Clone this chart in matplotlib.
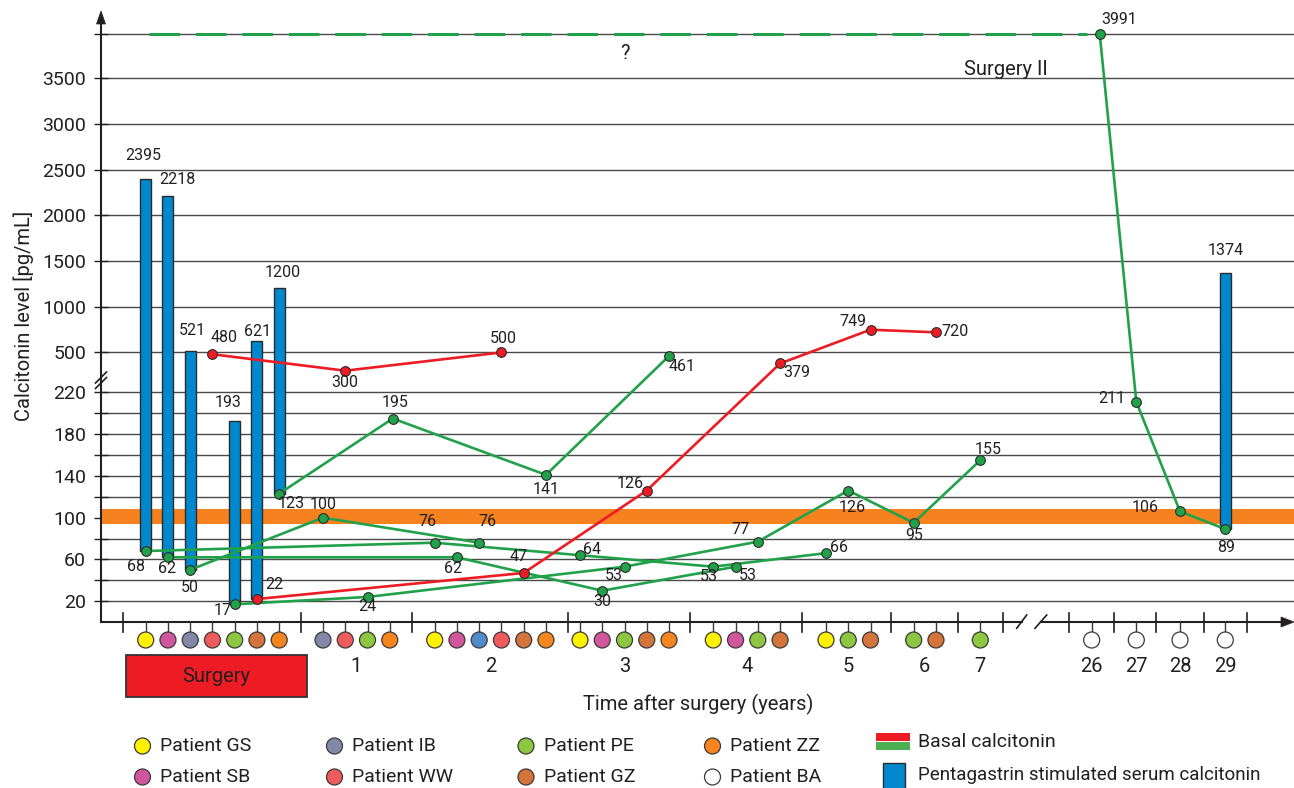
import numpy as np
import matplotlib
matplotlib.use("Agg")
import matplotlib.pyplot as plt
from matplotlib.patches import Rectangle, Circle, Polygon

plt.rcParams['font.family'] = ['Roboto', 'DejaVu Sans']
TXT = '#231f20'

# ---------------- data ----------------
patients = ['GS', 'SB', 'IB', 'WW', 'PE', 'GZ', 'ZZ', 'BA']
visit_groups = ['Surgery', '1', '2', '3', '4', '5', '6', '7', '26', '27', '28', '29']

gs_visits = ['Surgery', '2', '3', '4', '5']
gs_basal = [68, 76, 64, 53, 66]
sb_visits = ['Surgery', '2', '3', '4']
sb_basal = [62, 62, 30, 53]
ib_visits = ['Surgery', '1', '2']
ib_basal = [50, 100, 76]
ww_visits = ['Surgery', '1', '2']
ww_basal = [480, 300, 500]
pe_visits = ['Surgery', '1', '3', '4', '5', '6', '7']
pe_basal = [17, 24, 53, 77, 126, 95, 155]
gz_visits = ['Surgery', '2', '3', '4', '5', '6']
gz_basal = [22, 47, 126, 379, 749, 720]
zz_visits = ['Surgery', '1', '2', '3']
zz_basal = [123, 195, 141, 461]
ba_visits = ['26', '27', '28', '29']
ba_basal = [3991, 211, 106, 89]

# pentagastrin stimulated calcitonin (bar from basal up to stimulated value)
stim_patients = ['GS', 'SB', 'IB', 'PE', 'GZ', 'ZZ', 'BA']
stim_visits = ['Surgery', 'Surgery', 'Surgery', 'Surgery', 'Surgery', 'Surgery', '29']
stim_values = [2395, 2218, 521, 193, 621, 1200, 1374]

# patients whose basal course is drawn in red
red_patients = ['WW', 'GZ']

# normal range band
band_low, band_high = 94, 108

basal = {
    'GS': (gs_visits, gs_basal), 'SB': (sb_visits, sb_basal),
    'IB': (ib_visits, ib_basal), 'WW': (ww_visits, ww_basal),
    'PE': (pe_visits, pe_basal), 'GZ': (gz_visits, gz_basal),
    'ZZ': (zz_visits, zz_basal), 'BA': (ba_visits, ba_basal),
}

# ---------------- styles / layout ----------------
pcolors = {'GS': '#fff200', 'SB': '#d1569b', 'IB': '#8289a8', 'WW': '#ef5a5c',
           'PE': '#8dc63f', 'GZ': '#d4733a', 'ZZ': '#f6851f', 'BA': '#ffffff'}
dot_override = {('IB', '2'): '#4f8ccb'}
GREEN = '#21a24a'
RED = '#ed1c24'
BLUE = '#0088cf'
ORANGE = '#f5821f'

FS_TICK = 14
FS_DATA = 11.5
FS_TEXT = 14.5

group_start = {'Surgery': 145.7, '1': 323.0, '2': 434.7, '3': 580.0, '4': 713.3,
               '5': 826.0, '6': 913.7, '7': 980.3, '26': 1091.7, '27': 1136.3,
               '28': 1180.0, '29': 1225.3}
DOT_STEP = 22.25
group_ticks = [122.7, 301, 411.7, 568.3, 690.3, 802, 891, 957.7, 1002.7,
               1069.3, 1114, 1156, 1203.7, 1247]
# small horizontal nudges of individual measurement points
point_nudge = {('BA', '26'): 8, ('ZZ', '1'): 3}

label_off = {
    ('GS', 'Surgery'): (-10, -15), ('GS', '2'): (-7, 21), ('GS', '3'): (12, 6),
    ('GS', '4'): (-4, -10), ('GS', '5'): (13, 6),
    ('SB', 'Surgery'): (-1, -11), ('SB', '2'): (-4, -11), ('SB', '3'): (0, -11),
    ('SB', '4'): (12, -9),
    ('IB', 'Surgery'): (0, -18), ('IB', '1'): (0, 13), ('IB', '2'): (8, 21),
    ('WW', 'Surgery'): (12, 17), ('WW', '1'): (0, -12), ('WW', '2'): (2, 14),
    ('PE', 'Surgery'): (-12, -6), ('PE', '1'): (0, -10), ('PE', '3'): (-11, -9),
    ('PE', '4'): (-17, 12), ('PE', '5'): (4, -17), ('PE', '6'): (0, -13),
    ('PE', '7'): (8, 11),
    ('GZ', 'Surgery'): (17, 15), ('GZ', '2'): (-5, 16), ('GZ', '3'): (-17, 7),
    ('GZ', '4'): (17, -9), ('GZ', '5'): (-18, 8), ('GZ', '6'): (19, 1),
    ('ZZ', 'Surgery'): (12, -10), ('ZZ', '1'): (2, 16), ('ZZ', '2'): (0, -15),
    ('ZZ', '3'): (13, -11),
    ('BA', '26'): (19, 14), ('BA', '27'): (-24, 3), ('BA', '28'): (-35, 4),
    ('BA', '29'): (1, -18),
}
bar_label_off = {'GS': (-2, 24), 'SB': (9, 16), 'IB': (2, 20), 'PE': (-7, 18),
                 'GZ': (1, 10), 'ZZ': (4, 16), 'BA': (0, 22)}

# patients shown in each visit group, in legend order
group_members = {g: [p for p in patients if g in basal[p][0]] for g in visit_groups}


def xpos(patient, group):
    return group_start[group] + DOT_STEP * group_members[group].index(patient)


# ---------------- broken y scale ----------------
LOW_TOP = 220
UPPER_REF = 500
GAP = 38.33
RATIO = 0.08753
JUMP = LOW_TOP + GAP + (LOW_TOP - UPPER_REF) * RATIO


def fwd(v):
    v = np.asarray(v, dtype=float)
    return np.where(v <= LOW_TOP, v, LOW_TOP + GAP + (v - UPPER_REF) * RATIO)


def inv(t):
    t = np.asarray(t, dtype=float)
    return np.where(t <= LOW_TOP, t,
                    np.where(t < JUMP, LOW_TOP, UPPER_REF + (t - LOW_TOP - GAP) / RATIO))


W, H = 1294, 788
fig = plt.figure(figsize=(W / 100, H / 100), dpi=100)
fig.patch.set_facecolor('white')

AX_L, AX_B, AX_T = 101, 622, 12
ax = fig.add_axes([AX_L / W, (H - AX_B) / H, (W - AX_L) / W, (AX_B - AX_T) / H])
ax.set_yscale('function', functions=(fwd, inv))
ax.set_xlim(AX_L, W)
ax.set_ylim(0, float(inv((AX_B - AX_T) / 1.0435)))
for s in ax.spines.values():
    s.set_visible(False)
ax.set_xticks([])
ax.patch.set_alpha(0)

low_grid = list(range(20, 221, 20))
high_grid = [500, 1000, 1500, 2000, 2500, 3000, 3500]
top_grid = [ba_basal[0]]
grid_vals = low_grid + high_grid + top_grid
tick_labels = [str(v) if v in (20, 60, 100, 140, 180, 220) else '' for v in low_grid] + \
              [str(v) for v in high_grid] + ['']
for v in grid_vals:
    ax.axhline(v, color='#4a4a4a', lw=1.0, zorder=1)
ax.set_yticks(grid_vals)
ax.set_yticklabels(tick_labels)
ax.tick_params(axis='y', direction='inout', length=9.4, width=1.0, pad=6,
               labelsize=FS_TICK, colors=TXT)
ax.yaxis.set_minor_locator(matplotlib.ticker.NullLocator())

ax.axhspan(band_low, band_high, color=ORANGE, lw=0, zorder=2)

# stimulated bars
for p, g, hi in zip(stim_patients, stim_visits, stim_values):
    vis, vals = basal[p]
    lo = vals[vis.index(g)]
    x = xpos(p, g) + point_nudge.get((p, g), 0)
    ax.bar(x, hi - lo, bottom=lo, width=11, color=BLUE, edgecolor='#2b2b2b',
           lw=1.0, zorder=3)
    dx, dy = bar_label_off[p]
    ax.annotate(str(hi), (x, hi), xytext=(dx, dy), textcoords='offset pixels',
                ha='center', va='center', fontsize=FS_DATA, color=TXT, zorder=7,
                annotation_clip=False)

# unknown history of patient BA
ax.plot([group_start['Surgery'] + 3, group_start['26'] - 5], [ba_basal[0]] * 2,
        color=GREEN, lw=2.2, linestyle=(0, (10, 5.2)), zorder=4,
        dash_capstyle='butt')

# basal calcitonin courses
for p in patients:
    vis, vals = basal[p]
    xs = [xpos(p, g) + point_nudge.get((p, g), 0) for g in vis]
    col = RED if p in red_patients else GREEN
    ax.plot(xs, vals, color=col, lw=1.9, zorder=4, solid_joinstyle='round')
    ax.plot(xs, vals, 'o', ms=7, mfc=col, mec='#2b2b2b', mew=0.8, zorder=5,
            linestyle='none')
    for x, g, v in zip(xs, vis, vals):
        dx, dy = label_off[(p, g)]
        ax.annotate(str(v), (x, v), xytext=(dx, dy), textcoords='offset pixels',
                    ha='center', va='center', fontsize=FS_DATA, color=TXT, zorder=6,
                    annotation_clip=False)

# ---------------- overlay in pixel coordinates ----------------
ov = fig.add_axes([0, 0, 1, 1], zorder=10)
ov.set_xlim(0, W)
ov.set_ylim(H, 0)
ov.axis('off')
ov.patch.set_alpha(0)

LW = 1.5
# y axis with arrow and break marks
ov.plot([AX_L, AX_L], [AX_B, 22], color=TXT, lw=LW)
ov.add_patch(Polygon([(AX_L, 11), (AX_L - 4.5, 24), (AX_L + 4.5, 24)], closed=True,
                     fc=TXT, ec=TXT, lw=0.5))
ov.plot([95.5, 106.5], [383, 372], color=TXT, lw=1.2)
ov.plot([95.5, 106.5], [388.5, 377.5], color=TXT, lw=1.2)

# x axis with arrow and break marks
ov.plot([AX_L, 1021.7], [AX_B, AX_B], color=TXT, lw=LW)
ov.plot([1040.8, 1284], [AX_B, AX_B], color=TXT, lw=LW)
ov.add_patch(Polygon([(1294, AX_B), (1281, AX_B - 5), (1281, AX_B + 5)], closed=True,
                     fc=TXT, ec=TXT, lw=0.5))
ov.plot([1016.7, 1026.7], [628.3, 615], color=TXT, lw=1.2)
ov.plot([1035, 1046.7], [628.3, 615], color=TXT, lw=1.2)
for x in group_ticks:
    ov.plot([x, x], [613, 632], color=TXT, lw=1.2)

# patient visit dots under the axis
for g in visit_groups:
    for p in group_members[g]:
        x = xpos(p, g)
        ov.plot([x, x], [AX_B, 632], color='#3a3a3a', lw=1.0)
        ov.add_patch(Circle((x, 640), 8, fc=dot_override.get((p, g), pcolors[p]),
                            ec='#3a3a3a', lw=0.9, zorder=3))
    if g != 'Surgery':
        xs = [xpos(p, g) for p in group_members[g]]
        ov.text(np.mean(xs), 666, g, ha='center', va='center', fontsize=FS_TEXT,
                color=TXT)

# surgery box
ov.add_patch(Rectangle((125.7, 655.3), 181, 41.7, fc='#ed1c24', ec='#333333', lw=1.3))
ov.text(216, 676, 'Surgery', ha='center', va='center', fontsize=FS_TEXT, color=TXT)

# axis titles and annotations
ov.text(698, 704, 'Time after surgery (years)', ha='center', va='center',
        fontsize=FS_TEXT, color=TXT)
ov.text(24, 316, 'Calcitonin level [pg/mL]', ha='center', va='center',
        rotation=90, fontsize=FS_TEXT, color=TXT)
ov.text(625, 53, '?', ha='center', va='center', fontsize=FS_TEXT, color=TXT)
ov.text(1006, 69, 'Surgery II', ha='center', va='center', fontsize=FS_TEXT, color=TXT)

# legend
leg_x = [142.5, 334.5, 526, 712.5]
leg_y = [746, 777]
for i, p in enumerate(patients):
    cx = leg_x[i // 2]
    cy = leg_y[i % 2]
    ov.add_patch(Circle((cx, cy), 8, fc=pcolors[p], ec='#3a3a3a', lw=0.9))
    ov.text(cx + 18, cy, 'Patient ' + p, ha='left', va='center', fontsize=14,
            color=TXT)

ov.add_patch(Rectangle((876, 733), 34, 7.5, fc=RED, lw=0))
ov.add_patch(Rectangle((876, 742), 34, 7.5, fc='#4caf50', lw=0))
ov.text(918, 742, 'Basal calcitonin', ha='left', va='center', fontsize=14, color=TXT)
ov.add_patch(Rectangle((883, 763), 22, 26, fc=BLUE, ec='#2b2b2b', lw=1.0))
ov.text(918, 775, 'Pentagastrin stimulated serum calcitonin', ha='left', va='center',
        fontsize=13.5, color=TXT)

fig.savefig('out.png', dpi=100)
